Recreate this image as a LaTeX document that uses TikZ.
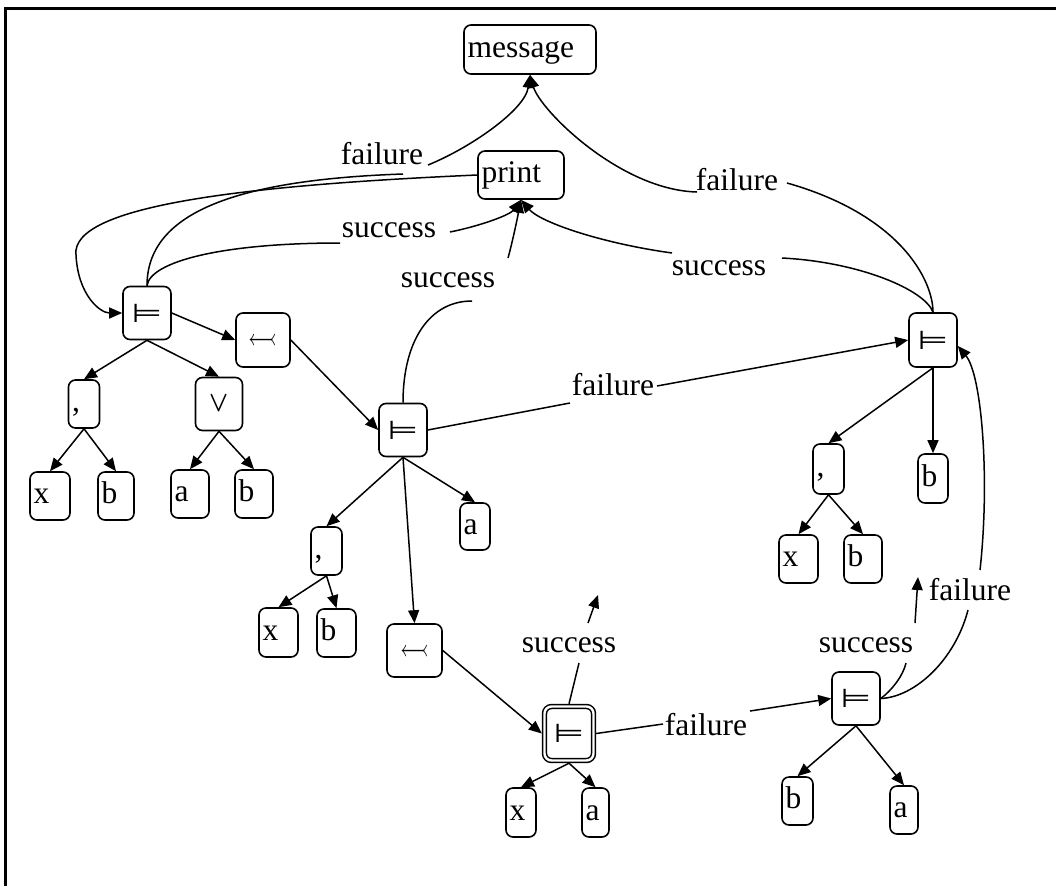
\documentclass[tikz,border=0pt]{standalone}
\usepackage{amssymb}
\usepackage{fontspec}
\setmainfont{Liberation Serif}
\newfontfamily\symfont{DejaVu Sans}
\usetikzlibrary{arrows.meta}
\newcommand{\ent}{\scalebox{1.35}[1]{⊨}}
\newcommand{\tailarr}{\scalebox{1}[1.3]{$\leftarrowtail$}}
\begin{document}
\begin{tikzpicture}[x=1pt,y=-1pt,
  every node/.style={font=\fontsize{31.5}{36}\selectfont},
  box/.style={draw, line width=1.6pt, rounded corners=7pt},
  tbox/.style 2 args={box, inner xsep=3.5pt, inner ysep=0pt, text width=#1, minimum height=#2, align=left, text height=22pt, text depth=7pt},
  sbox/.style 2 args={box, inner sep=0pt, minimum width=#1, minimum height=#2, font=\symfont\fontsize{26}{30}\selectfont},
  mathsym/.style={font=\fontsize{26}{30}\selectfont},
  dbox/.style={draw, double, double distance=2.4pt, line width=1.5pt, rounded corners=7pt, inner sep=0pt, minimum width=49pt, minimum height=54pt, outer sep=2.7pt, font=\symfont\fontsize{26}{30}\selectfont},
  lbl/.style={inner sep=0pt},
  e/.style={draw, line width=1.5pt},
  a/.style={e, -{Triangle[length=13pt,width=11pt]}}]
\useasboundingbox (0,0) rectangle (1056,886);
\draw[line width=3pt] (1056,8.5) -- (5.5,8.5) -- (5.5,886);
% nodes
\node[tbox={125pt}{49pt}] (msg) at (530,49.5) {message};
\node[tbox={79pt}{48pt}] (prt) at (521,175) {print};
\node[sbox={48pt}{53pt}] (L1) at (147,313) {\ent};
\node[sbox={54pt}{54pt}, mathsym] (L2) at (263,340) {\tailarr};
\node[tbox={24pt}{48pt}] (L3) at (84,404) {,};
\node[sbox={47pt}{53pt}, mathsym] (L4) at (219,404) {\scalebox{1}[1.15]{\boldmath$\vee$}};
\node[tbox={33pt}{48pt}] (L5) at (50,496) {x};
\node[tbox={29pt}{48pt}] (L6) at (116,496) {b};
\node[tbox={31pt}{48pt}] (L7) at (190,494) {a};
\node[tbox={31pt}{48pt}] (L8) at (254,494) {b};
\node[sbox={48pt}{53pt}] (M1) at (403,430) {\ent};
\node[tbox={23pt}{47pt}] (M2) at (475,526.5) {a};
\node[tbox={24pt}{48pt}] (M3) at (326.5,551) {,};
\node[tbox={32pt}{49pt}] (M4) at (278.5,632.5) {x};
\node[tbox={32pt}{48pt}] (M5) at (336.5,633) {b};
\node[sbox={55pt}{53pt}, mathsym] (M6) at (414.5,650.5) {\tailarr};
\node[dbox] (M7) at (569,733.5) {\ent};
\node[tbox={23pt}{49pt}] (M8) at (521,812.5) {x};
\node[tbox={20pt}{49pt}] (M9) at (595.5,812.5) {a};
\node[sbox={48pt}{54pt}] (R1) at (933,340) {\ent};
\node[tbox={24pt}{50pt}] (R2) at (828.5,469) {,};
\node[tbox={23pt}{49pt}] (R3) at (933,478.5) {b};
\node[tbox={32pt}{48pt}] (R4) at (798.5,559) {x};
\node[tbox={31pt}{48pt}] (R5) at (863,559) {b};
\node[sbox={48pt}{53pt}] (B1) at (856,698.5) {\ent};
\node[tbox={24pt}{48pt}] (B2) at (797.5,801) {b};
\node[tbox={21pt}{48pt}] (B3) at (904,810) {a};
% labels
\node[lbl] (fl1) at (382,154) {failure};
\node[lbl] (fl2) at (737,180) {failure};
\node[lbl] (sc1) at (389,230) {success};
\node[lbl] (sc2) at (448,280) {success};
\node[lbl] (sc3) at (719,268) {success};
\node[lbl] (fl3) at (613,385) {failure};
\node[lbl] (sc4) at (569,645) {success};
\node[lbl] (fl4) at (706,725) {failure};
\node[lbl] (sc5) at (866,645) {success};
\node[lbl] (fl5) at (970,590) {failure};
% break points
\coordinate (f1a) at (403,174); \coordinate (f1b) at (428,165);
\coordinate (f2a) at (787,183); \coordinate (f2b) at (697,192);
\coordinate (s1a) at (340,243); \coordinate (s1b) at (450,232);
\coordinate (s2a) at (472,301); \coordinate (s2b) at (508,258);
\coordinate (s3a) at (782,258); \coordinate (s3b) at (672,253);
\coordinate (f3a) at (570,403); \coordinate (f3b) at (657,386);
\coordinate (s4a) at (579,663); \coordinate (s4b) at (588,623); \coordinate (s4c) at (598,595);
\coordinate (f4a) at (663,724); \coordinate (f4b) at (750,711);
\coordinate (s5a) at (906,663); \coordinate (s5b) at (915,623); \coordinate (s5c) at (918,577);
\coordinate (f5a) at (968,610); \coordinate (f5b) at (980,570);
% tree edges
\path[a] (L1.east) -- (L2.west);
\path[a] (L1.south) -- (L3.north);
\path[a] (L1.south) -- (L4.north);
\path[a] (L3.south) -- (L5.north);
\path[a] (L3.south) -- (L6.north);
\path[a] (L4.south) -- (L7.north);
\path[a] (L4.south) -- (L8.north);
\path[a] (L2.east) -- (M1.west);
\path[a] (M1.south) -- (M3.north);
\path[a] (M1.south) -- (M2.north);
\path[a] (M1.south) -- (M6.north);
\path[a] (M3.south) -- (M4.north);
\path[a] (M3.south) -- (M5.north);
\path[a] (M6.east) -- (M7.west);
\path[a] (M7.south) -- (M8.north);
\path[a] (M7.south) -- (M9.north);
\path[a] (R1.south) -- (R2.north);
\path[a] (R1.south) -- (R3.north);
\path[a] (R2.south) -- (R4.north);
\path[a] (R2.south) -- (R5.north);
\path[a] (B1.south) -- (B2.north);
\path[a] (B1.south) -- (B3.north);
% print -> L1
\path[a] (prt.west) .. controls (250,185) and (70,205) .. (76,255) .. controls (78,295) and (100,313) .. (L1.west);
% L1 edges
\path[e] (L1.north) .. controls (147,215) and (230,180) .. (f1a);
\path[a] (f1b) .. controls (470,148) and (525,110) .. (msg.south);
\path[e] (L1.north) .. controls (150,262) and (220,243) .. (s1a);
\path[a] (s1b) .. controls (480,226) and (510,215) .. (prt.south);
% M1 edges
\path[e] (M1.north) .. controls (403,340) and (430,301) .. (s2a);
\path[a] (s2b) .. controls (513,240) and (518,215) .. (prt.south);
\path[e] (M1.east) -- (f3a);
\path[a] (f3b) -- (R1.west);
% R1 edges
\path[e] (R1.north) .. controls (925,290) and (860,262) .. (s3a);
\path[a] (s3b) .. controls (600,243) and (540,222) .. (prt.south);
\path[e] (R1.north) .. controls (933,280) and (900,215) .. (f2a);
\path[a] (f2b) .. controls (620,190) and (540,110) .. (msg.south);
% M7 edges
\path[e] (M7.north) -- (s4a);
\path[a] (s4b) -- (s4c);
\path[e] (M7.east) -- (f4a);
\path[a] (f4b) -- (B1.west);
% B1 edges
\path[e] (B1.east) .. controls (892,690) and (903,676) .. (s5a);
\path[a] (s5b) -- (s5c);
\path[e] (B1.east) .. controls (915,697) and (955,660) .. (f5a);
\path[a] (f5b) .. controls (990,480) and (982,375) .. ([yshift=-6pt]R1.east);
\end{tikzpicture}
\end{document}
